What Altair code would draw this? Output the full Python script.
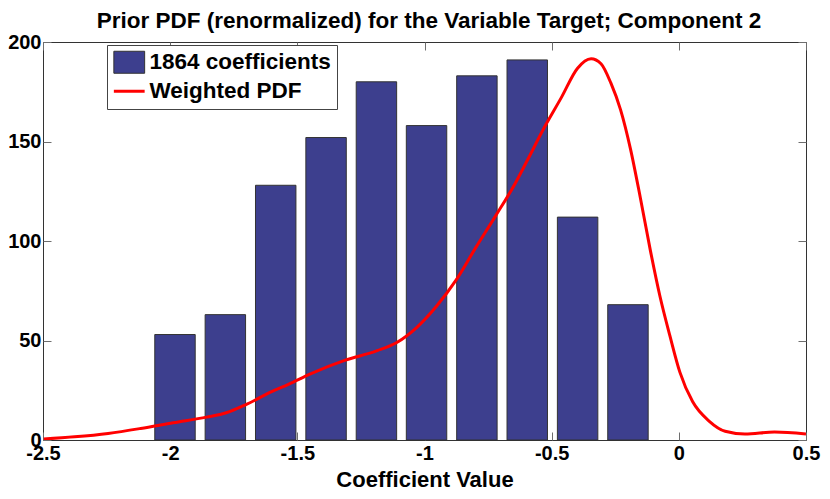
import altair as alt
import pandas as pd

# ---- data ----
bin_centers = [-1.981, -1.783, -1.585, -1.387, -1.189, -0.992, -0.794, -0.596, -0.398, -0.200]
counts = [53, 63, 128, 152, 180, 158, 183, 191, 112, 68]

pdf_x = [-2.497, -2.376, -2.244, -2.116, -1.988, -1.857, -1.779, -1.702, -1.601, -1.535,
         -1.446, -1.314, -1.186, -1.109, -1.031, -0.953, -0.876, -0.798, -0.721, -0.643,
         -0.593, -0.527, -0.461, -0.399, -0.345, -0.306, -0.267, -0.229, -0.190, -0.151,
         -0.112, -0.074, -0.035, 0.004, 0.054, 0.120, 0.182, 0.260, 0.376, 0.500]
pdf_y = [0.5, 1.6, 3.3, 5.8, 8.7, 11.5, 13.7, 17.8, 24.3, 28.0,
         33.4, 40.0, 44.9, 49.0, 56.5, 67.2, 80.3, 96.8, 112.5, 129.0,
         141.2, 157.5, 172.3, 186.7, 191.6, 189.1, 179.3, 165.9, 146.2, 121.5,
         95.3, 72.1, 52.3, 34.1, 19.3, 9.4, 4.4, 3.0, 4.0, 3.0]

x_ticks = [-2.5, -2, -1.5, -1, -0.5, 0, 0.5]
y_ticks = [0, 50, 100, 150, 200]
series_names = ["1864 coefficients", "Weighted PDF"]
series_colors = ["#3d3f8e", "#ff0000"]

title_text = "Prior PDF (renormalized) for the Variable Target; Component 2"
x_title = "Coefficient Value"

FONT = "Liberation Sans"
FS = 22.5
TICK = 8
TICK_COLOR = "#6e6e6e"
W, H = 763, 398

bars_df = pd.DataFrame({"center": bin_centers, "count": counts,
                        "series": [series_names[0]] * len(counts)})
pdf_df = pd.DataFrame({"x": pdf_x, "y": pdf_y})

xscale = alt.Scale(domain=[x_ticks[0], x_ticks[-1]], nice=False, zero=False)
yscale = alt.Scale(domain=[y_ticks[0], y_ticks[-1]], nice=False, zero=False)

common_axis = dict(domain=False, grid=False, tickSize=TICK, offset=-TICK,
                   tickColor=TICK_COLOR, tickWidth=1)

x_bottom = alt.Axis(orient="bottom", values=x_ticks, labelExpr="datum.value + ''",
                    labelPadding=3, labelFont=FONT, labelFontSize=20, labelFontWeight="bold",
                    labelColor="black", labelFlush=False, labelOverlap=False,
                    title=x_title, titleFont=FONT, titleFontSize=22, titleFontWeight="bold",
                    titleColor="black", titleBaseline="alphabetic", titleY=54,
                    **common_axis)
y_left = alt.Axis(orient="left", values=y_ticks, labelExpr="datum.value + ''",
                  labelPadding=2, labelFont=FONT, labelFontSize=20, labelFontWeight="bold",
                  labelColor="black", labelFlush=False, labelOverlap=False,
                  title=None, **common_axis)
# chart title carried by the top axis (inward ticks, no labels)
x_top = alt.Axis(orient="top", values=x_ticks, labels=False,
                 title=title_text, titleFont=FONT, titleFontSize=FS, titleFontWeight="bold",
                 titleColor="black", titleBaseline="alphabetic", titleAlign="center",
                 titleAnchor="middle", titleX=W / 2 + 4, titleY=-23,
                 **common_axis)
y_right = alt.Axis(orient="right", values=y_ticks, labels=False, title=None, **common_axis)

legend = alt.Legend(
    title=None, orient="none", legendX=64, legendY=3, direction="vertical",
    strokeColor="#444444", fillColor="white", padding=6,
    symbolType={"expr": "datum.value == 'Weighted PDF' ? 'M-1.4,0L1.4,0' : 'M-1.4,-1L1.4,-1L1.4,1L-1.4,1Z'"},
    symbolSize=484,
    symbolStrokeColor={"expr": "datum.value == 'Weighted PDF' ? '#ff0000' : '#333333'"},
    symbolStrokeWidth={"expr": "datum.value == 'Weighted PDF' ? 3 : 1"},
    symbolOffset=5, labelOffset=9, rowPadding=4,
    labelFont=FONT, labelFontSize=FS, labelFontWeight="bold", labelColor="black",
    labelLimit=400,
)

bars = alt.Chart(bars_df).transform_calculate(
    x0="datum.center - 0.0795", x1="datum.center + 0.0795"
).mark_bar(stroke="#333333", strokeWidth=1).encode(
    x=alt.X("x0:Q", scale=xscale, axis=x_bottom),
    x2="x1:Q",
    y=alt.Y("count:Q", scale=yscale, axis=y_left),
    y2=alt.datum(0),
    color=alt.Color("series:N", scale=alt.Scale(domain=series_names, range=series_colors),
                    legend=legend),
)

line = alt.Chart(pdf_df).mark_line(color="#ff0000", strokeWidth=3, interpolate="monotone",
                                   clip=True).encode(
    x=alt.X("x:Q", scale=xscale, axis=x_top),
    y=alt.Y("y:Q", scale=yscale, axis=y_right),
)

chart = alt.layer(bars, line).resolve_axis(x="independent", y="independent").properties(
    width=W, height=H,
    autosize=alt.AutoSizeParams(type="none"),
    padding={"left": 35, "top": 34, "right": 16, "bottom": 51},
    background="white",
).configure_view(stroke="#333333", strokeWidth=1)

chart.save("out.html", embed_options={"renderer": "svg", "actions": False})
